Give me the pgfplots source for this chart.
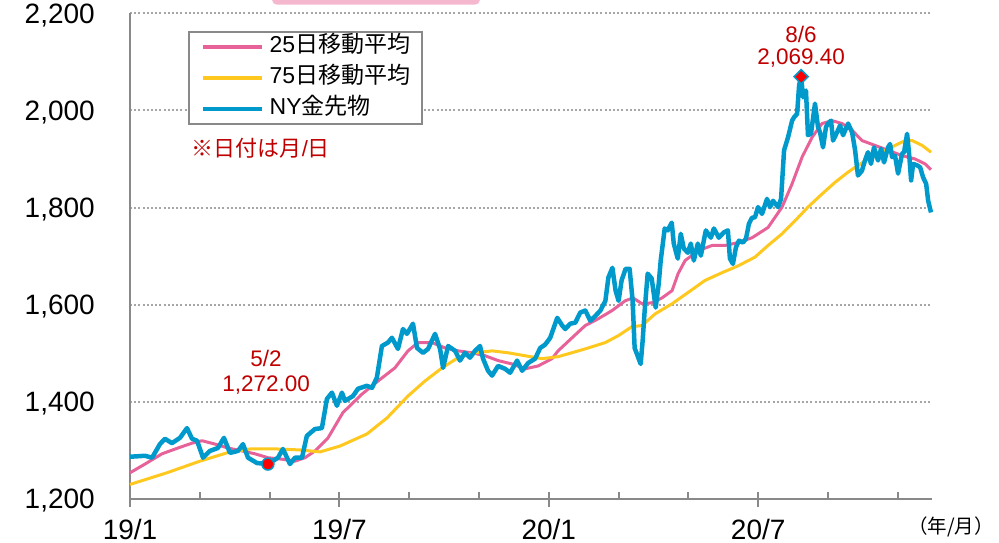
\documentclass[border=0pt]{standalone}
\usepackage{pgfplots}
\pgfplotsset{compat=1.18}
\usepackage{fontspec}
\setmainfont{Liberation Sans}
\newfontfamily\jp{Noto Sans CJK JP}
\definecolor{goldblue}{HTML}{0099CC}
\definecolor{maA}{HTML}{E8629A}
\definecolor{maB}{HTML}{FFC81E}
\definecolor{axgray}{HTML}{898989}
\definecolor{gridgray}{HTML}{A6A6A6}
\definecolor{annred}{HTML}{C00000}
\definecolor{boxpink}{HTML}{F4B7CE}

\begin{document}
\begin{tikzpicture}
\fill[boxpink, rounded corners=5pt] (272pt,537.3pt) rectangle (480pt,560pt);
\begin{axis}[
  at={(130pt,43pt)}, anchor=south west,
  scale only axis, width=802pt, height=485.7pt,
  xmin=0, xmax=479.8, ymin=1200, ymax=2200,
  clip=false,
  axis x line=bottom, axis y line=left,
  axis line style={-, axgray, line width=2.2pt},
  xtick={0,41.76,...,460}, xticklabels={},
  tick align=inside, major tick length=7pt,
  x tick style={axgray, line width=2pt},
  extra x ticks={0,125.28,250.56,375.84},
  extra x tick labels={19/1,19/7,20/1,20/7},
  extra x tick style={tick align=outside, major tick length=8pt},
  xticklabel style={font=\fontsize{28}{30}\selectfont, inner sep=0pt, anchor=north, yshift=-12pt},
  ytick={1200,1400,...,2200},
  y tick style={draw=none},
  yticklabel style={font=\fontsize{28}{30}\selectfont, inner sep=0pt, anchor=east, xshift=-35pt, text depth=0pt},
  ymajorgrids,
  major grid style={gridgray, line width=2pt, dash pattern=on 2pt off 2.2pt},
  /pgf/number format/.cd, 1000 sep={,}, assume math mode=true,
  /pgfplots/.cd,
  scaled ticks=false,
  legend style={at={(rel axis cs:0.0727,0.9636)}, anchor=north west,
    draw=axgray, line width=1.8pt, fill=white,
    inner xsep=12pt, inner ysep=5pt, row sep=11pt, column sep=5pt,
    font=\fontsize{23}{26}\selectfont,
    nodes={inner sep=0pt, text height=16pt, text depth=4pt}},
  legend cell align=left,
  legend image code/.code={\draw[#1, line width=4.5pt] (0pt,0pt) -- (59pt,0pt);},
]
\addplot[maA, line width=3pt, line join=round] coordinates {
(0,1254)(9.0,1272)(19.1,1293)(28.7,1305)(37.1,1315)(43.1,1320)(50.9,1313)(58.6,1305)(67.0,1299)(74.8,1293)(82.6,1285)(90.9,1282)(98.7,1278)(104.7,1285)(110.7,1299)(118.5,1326)(127.4,1378)(138.8,1416)(148.4,1443)(158.5,1470)(166.3,1505)(172.3,1522)(180.7,1522)(188.5,1511)(196.3,1505)(204.6,1501)(212.4,1495)(220.2,1485)(228.6,1478)(236.4,1468)(244.2,1474)(252.5,1489)(256.1,1505)(264.5,1532)(272.3,1557)(280.1,1571)(288.4,1588)(296.2,1608)(301.0,1614)(306.3,1602)(312.3,1604)(318.3,1614)(324.3,1629)(327.9,1664)(332.1,1691)(339.8,1711)(348.2,1722)(356.0,1722)(363.8,1728)(372.2,1738)(381.7,1759)(390.1,1801)(396.1,1849)(402.1,1904)(408.1,1945)(414.0,1973)(420.0,1979)(426.0,1973)(432.0,1959)(437.9,1938)(445.7,1928)(453.5,1918)(461.9,1907)(469.7,1900)(475.6,1890)(479.2,1878)
};
\addlegendentry{25{\jp 日移動平均}}
\addplot[maB, line width=3pt, line join=round] coordinates {
(0,1230)(22.1,1254)(41.9,1278)(58.0,1295)(71.8,1303)(87.9,1303)(101.7,1301)(113.7,1297)(125.6,1309)(141.8,1334)(153.8,1367)(166.3,1412)(176.5,1443)(186.7,1470)(196.3,1491)(206.4,1501)(216.6,1505)(226.2,1501)(236.3,1495)(246.5,1489)(256.1,1493)(272.3,1509)(284.3,1522)(292.0,1536)(300.4,1555)(306.3,1557)(314.1,1581)(324.3,1602)(333.8,1625)(344.0,1650)(354.2,1666)(363.8,1680)(373.9,1698)(381.7,1722)(390.1,1746)(397.9,1773)(405.6,1801)(414.0,1828)(421.8,1852)(429.6,1873)(433.8,1883)(441.5,1900)(449.9,1914)(457.7,1928)(463.7,1938)(467.9,1938)(473.9,1928)(479.2,1914)
};
\addlegendentry{75{\jp 日移動平均}}
\addplot[goldblue, line width=4.5pt, line join=round] coordinates {
(0,1287)(9.0,1289)(13.2,1285)(17.9,1313)(20.9,1324)(25.1,1315)(29.9,1326)(34.1,1346)(37.1,1324)(40.1,1320)(43.7,1285)(47.8,1299)(52.6,1305)(56.2,1326)(59.8,1295)(64.6,1299)(67.6,1313)(70.6,1285)(76.0,1274)(82.5,1272)(88.5,1285)(91.5,1303)(95.7,1272)(98.7,1285)(102.9,1285)(105.8,1330)(110.6,1344)(114.8,1346)(117.8,1406)(120.8,1419)(123.8,1392)(126.8,1419)(128.6,1402)(133.4,1412)(136.4,1427)(141.7,1433)(144.8,1429)(147.7,1450)(150.7,1515)(154.3,1522)(156.7,1532)(160.3,1509)(163.3,1550)(165.7,1540)(169.3,1561)(171.7,1511)(175.3,1501)(178.3,1509)(182.5,1540)(185.5,1509)(187.3,1470)(190.3,1515)(194.5,1505)(197.4,1485)(200.4,1501)(203.4,1491)(206.4,1505)(209.4,1515)(211.2,1489)(214.2,1464)(216.6,1454)(220.2,1474)(224.4,1468)(227.4,1460)(231.6,1485)(234.6,1464)(238.2,1480)(242.4,1489)(245.4,1511)(248.4,1518)(251.4,1532)(255.6,1573)(258.6,1557)(260.4,1550)(263.4,1561)(266.4,1563)(269.4,1584)(272.4,1588)(275.4,1567)(278.4,1577)(281.4,1588)(284.4,1608)(286.2,1656)(288.6,1676)(290.5,1629)(292.3,1608)(294.1,1650)(296.5,1674)(298.9,1674)(300.7,1608)(301.9,1511)(304.3,1489)(305.5,1478)(306.7,1526)(307.9,1588)(309.7,1664)(312.1,1654)(314.5,1594)(316.3,1643)(317.5,1691)(319.9,1757)(321.7,1753)(324.1,1769)(325.3,1726)(327.7,1695)(329.5,1746)(331.3,1716)(333.7,1707)(335.5,1726)(337.3,1691)(339.7,1726)(341.5,1701)(344.5,1753)(347.5,1738)(349.3,1757)(352.3,1738)(355.3,1749)(357.7,1753)(358.9,1695)(360.7,1684)(362.5,1718)(364.3,1732)(366.7,1728)(368.5,1736)(370.3,1767)(372.1,1779)(373.9,1780)(375.7,1801)(378.1,1787)(381.1,1818)(382.9,1801)(384.7,1814)(387.7,1801)(389.5,1818)(391.3,1918)(393.7,1945)(396.1,1979)(397.3,1986)(399.1,1993)(400.3,2052)(401.5,2069.4)(402.7,2027)(404.4,2041)(405.6,1949)(407.4,1952)(409.8,2014)(411.6,1966)(412.8,1955)(414.6,1924)(416.4,1966)(417.6,1973)(419.4,1979)(420.6,1938)(423.0,1955)(424.8,1969)(426.6,1949)(429.6,1973)(432.0,1955)(433.8,1918)(435.5,1866)(437.9,1876)(439.7,1897)(441.5,1914)(443.3,1890)(445.1,1924)(447.5,1897)(449.3,1921)(451.1,1893)(453.5,1924)(454.7,1931)(455.9,1904)(457.7,1907)(459.5,1870)(461.9,1911)(463.1,1914)(464.9,1952)(466.1,1911)(467.3,1856)(468.5,1890)(470.9,1887)(472.7,1883)(474.5,1862)(476.3,1849)(477.5,1814)(479.2,1790)
};
\addlegendentry{NY{\jp 金先物}}
\addplot[only marks, mark=square*, mark size=5pt, mark options={rotate=45, fill=red, draw=goldblue, line width=1.5pt}, forget plot] coordinates {(401.5,2069.4)};
\addplot[only marks, mark=*, mark size=6pt, mark options={fill=red, draw=goldblue, line width=1.5pt}, forget plot] coordinates {(82.5,1272)};
\node[annred, font=\fontsize{22.5}{26}\selectfont] at (axis cs:401.5,2157) {8/6};
\node[annred, font=\fontsize{22.5}{26}\selectfont] at (axis cs:401.5,2107) {2,069.40};
\node[annred, font=\fontsize{22.5}{26}\selectfont] at (axis cs:81.4,1489) {5/2};
\node[annred, font=\fontsize{22.5}{26}\selectfont] at (axis cs:81.4,1435) {1,272.00};
\node[annred, font=\fontsize{22}{26}\selectfont, anchor=west, inner sep=0pt] at (axis cs:36.9,1923) {{\jp ※日付は月}/{\jp 日}};
\end{axis}
\node[font=\fontsize{19.5}{22}\selectfont\jp] at (951pt,15pt) {（年/月）};
\pgfresetboundingbox
\useasboundingbox (0pt,0pt) rectangle (999pt,542pt);
\end{tikzpicture}
\end{document}
